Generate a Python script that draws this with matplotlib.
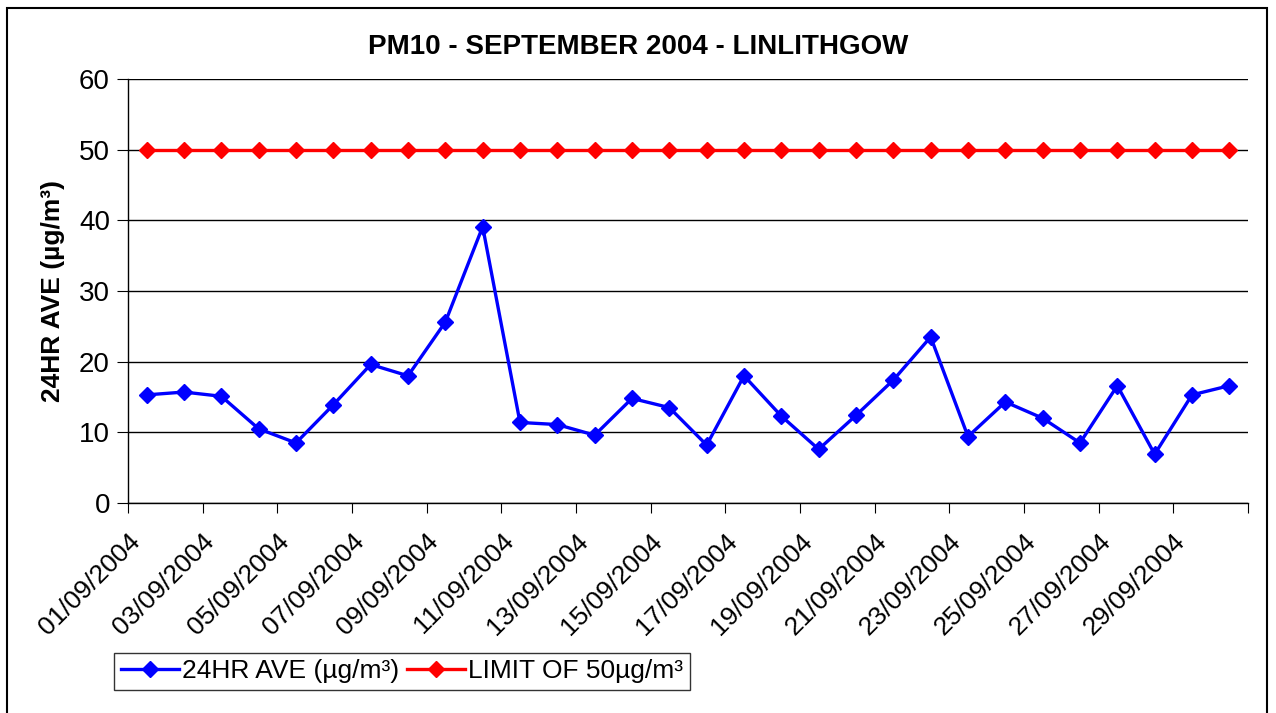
import numpy as np
import matplotlib
matplotlib.use('Agg')
import matplotlib.pyplot as plt
from matplotlib.patches import Rectangle
from matplotlib.transforms import ScaledTranslation

plt.rcParams['font.family'] = ['Liberation Sans', 'DejaVu Sans']

# --- DATA ---
days = list(range(1, 31))
dates = [f"{d:02d}/09/2004" for d in days]
pm10 = [15.3, 15.7, 15.1, 10.5, 8.5, 13.9, 19.6, 18.0, 25.6, 39.1,
        11.4, 11.1, 9.6, 14.8, 13.5, 8.2, 18.0, 12.3, 7.6, 12.4,
        17.4, 23.5, 9.4, 14.3, 12.0, 8.5, 16.6, 6.9, 15.3, 16.6]
limit = [50] * 30

title = "PM10 - SEPTEMBER 2004 - LINLITHGOW"
ylabel = "24HR AVE (µg/m³)"
lab_pm = "24HR AVE (µg/m³)"
lab_lim = "LIMIT OF 50µg/m³"

W, H = 1276, 713
fig = plt.figure(figsize=(W / 100, H / 100), dpi=100)
ax = fig.add_axes([128 / W, 1 - 503 / H, (1248 - 128) / W, (503 - 79) / H])

l1, = ax.plot(days, pm10, color='#0000ff', lw=2.4, marker='D', ms=8.5,
              label=lab_pm, zorder=3)
l2, = ax.plot(days, limit, color='#ff0000', lw=2.4, marker='D', ms=8.5,
              label=lab_lim, zorder=3)

ax.set_xlim(0.5, 30.5)
ax.set_ylim(0, 60)
ax.set_yticks(np.arange(0, 61, 10))
ax.yaxis.grid(True, color='black', lw=1)
ax.set_axisbelow(True)
for s in ['top', 'right']:
    ax.spines[s].set_visible(False)
for s in ['left', 'bottom']:
    ax.spines[s].set_linewidth(1)

# tick marks between every second category, labels on odd days
ax.set_xticks(np.arange(0.5, 31, 2))
ax.set_xticklabels([])
ax.tick_params(axis='x', which='major', length=7, direction='out')
ax.tick_params(axis='y', length=8, direction='out', labelsize=20, pad=5)

# rotated date labels, placed like excel does (end just left of the point)
off = ScaledTranslation(-19 / 100, -26 / 100, fig.dpi_scale_trans)
for d, lab in zip(days[::2], dates[::2]):
    ax.text(d, 0, lab, transform=ax.get_xaxis_transform() + off,
            rotation=45, ha='right', va='top', rotation_mode='anchor',
            fontsize=19, clip_on=False)

ax.set_ylabel(ylabel, fontsize=19, fontweight='bold')
ax.yaxis.set_label_coords(-0.056, 0.5)
fig.text(638 / W, 1 - 47 / H, title, ha='center', va='center',
         fontsize=20, fontweight='bold')

leg = fig.legend(handles=[l1, l2], loc='lower left', ncol=2,
                 bbox_to_anchor=(114 / W, 1 - 690 / H), fontsize=19,
                 frameon=True, fancybox=False, edgecolor='black',
                 borderpad=0.25, handlelength=2.2, handletextpad=0.12,
                 columnspacing=0.3, borderaxespad=0)
leg.get_frame().set_linewidth(1)

fig.patches.append(Rectangle((7 / W, -0.01), (1267 - 7) / W, 1 - 8 / H + 0.01,
                             transform=fig.transFigure, fill=False,
                             edgecolor='black', lw=1.5))

fig.savefig('out.png', dpi=100)
